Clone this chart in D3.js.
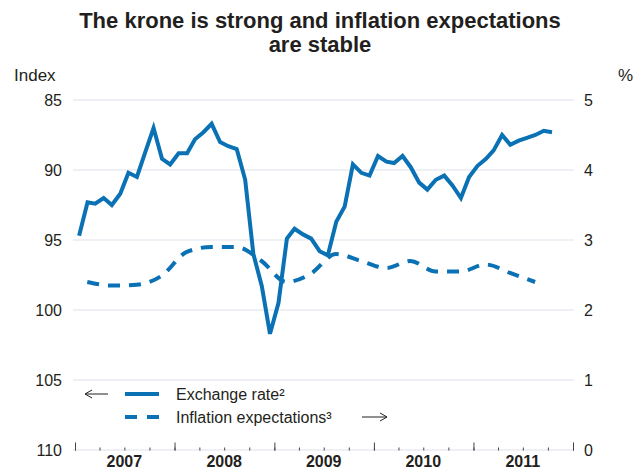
<!DOCTYPE html>
<html>
<head>
<meta charset="utf-8">
<script src="https://cdn.jsdelivr.net/npm/d3@7"></script>
<style>
  body { margin: 0; background: #fff; }
  svg { display: block; font-family: "Liberation Sans", Arial, Helvetica, sans-serif; }
</style>
</head>
<body>
<svg id="chart" width="642" height="471"></svg>
<script>
// Monthly exchange rate index, January 2007 to October 2011 (inverted left axis)
const exchangeRate = [
  94.7, 92.3, 92.4, 92.0, 92.5, 91.7, 90.2, 90.5, 88.7, 87.0, 89.2, 89.6,
  88.8, 88.8, 87.8, 87.3, 86.7, 88.0, 88.3, 88.5, 90.7, 96.0, 98.3, 101.7,
  99.5, 94.9, 94.2, 94.6, 94.9, 95.8, 96.1, 93.7, 92.6, 89.6, 90.2, 90.4,
  89.0, 89.4, 89.5, 89.0, 89.8, 90.9, 91.4, 90.7, 90.4, 91.1, 92.0, 90.5,
  89.7, 89.2, 88.6, 87.5, 88.2, 87.9, 87.7, 87.5, 87.2, 87.3
];
const exchangeStart = [2007, 0]; // year, month of first observation

// Quarterly inflation expectations (%), 2007 Q1 to 2011 Q3
const inflationExpectations = [
  2.40, 2.35, 2.36, 2.49, 2.83, 2.90, 2.90, 2.70, 2.40, 2.52,
  2.80, 2.70, 2.60, 2.70, 2.55, 2.55, 2.65, 2.53, 2.40
];
const inflationStart = [2007, 0]; // year, first quarter

const years = [2007, 2008, 2009, 2010, 2011];
const indexTicks = [85, 90, 95, 100, 105, 110];
const percentTicks = [0, 1, 2, 3, 4, 5];

const titleLines = ["The krone is strong and inflation expectations", "are stable"];
const leftUnit = "Index";
const rightUnit = "%";
const legendLabels = ["Exchange rate\u00B2", "Inflation expectations\u00B3"];

const blue = "#0a71b4";
const ink = "#231f20";
const grid = "#dde1ea";

const svg = d3.select("#chart");
const plot = { left: 74, right: 573, top: 100, bottom: 450 };

const x = d3.scaleTime()
  .domain([new Date(years[0], 0, 1), new Date(years[years.length - 1] + 1, 0, 1)])
  .range([plot.left + 1, plot.right]);
const yLeft = d3.scaleLinear().domain([85, 110]).range([plot.top, plot.bottom]);
const yRight = d3.scaleLinear().domain([5, 0]).range([plot.top, plot.bottom]);

// Title
svg.append("g").selectAll("text").data(titleLines).join("text")
  .attr("x", 320).attr("y", (d, i) => 28 + i * 24)
  .attr("text-anchor", "middle")
  .attr("font-size", 22).attr("font-weight", "bold").attr("fill", ink)
  .text(d => d);

// Unit labels
svg.append("text").attr("x", 14).attr("y", 81).attr("font-size", 17).attr("fill", ink).text(leftUnit);
svg.append("text").attr("x", 633).attr("y", 81).attr("text-anchor", "end").attr("font-size", 17).attr("fill", ink).text(rightUnit);

// Gridlines
svg.append("g").selectAll("line").data(indexTicks).join("line")
  .attr("x1", plot.left - 1).attr("x2", plot.right + 1)
  .attr("y1", d => yLeft(d)).attr("y2", d => yLeft(d))
  .attr("stroke", grid).attr("stroke-width", 1);

// Left axis labels
svg.append("g").selectAll("text").data(indexTicks).join("text")
  .attr("x", 62).attr("y", d => yLeft(d)).attr("dy", "0.36em")
  .attr("text-anchor", "end").attr("font-size", 16).attr("fill", ink)
  .text(d => d);

// Right axis labels
svg.append("g").selectAll("text").data(percentTicks).join("text")
  .attr("x", 584).attr("y", d => yRight(d)).attr("dy", "0.36em")
  .attr("font-size", 16).attr("fill", ink)
  .text(d => d);

// Time axis: year ticks and quarterly minor ticks, pointing up
const majorAxis = d3.axisBottom(x).ticks(d3.timeYear.every(1)).tickSize(-8).tickFormat("");
const minorAxis = d3.axisBottom(x).ticks(d3.timeMonth.every(3)).tickSize(-3).tickFormat("");
const gMinor = svg.append("g").attr("transform", `translate(0,${plot.bottom + 0.5})`).call(minorAxis);
const gMajor = svg.append("g").attr("transform", `translate(0,${plot.bottom + 0.5})`).call(majorAxis);
[gMinor, gMajor].forEach(g => {
  g.select(".domain").remove();
  g.selectAll(".tick line").attr("stroke", "#444").attr("stroke-width", 1);
});

// Year labels centred in each year
svg.append("g").selectAll("text").data(years).join("text")
  .attr("x", d => x(new Date(d, 6, 1)))
  .attr("y", 467)
  .attr("text-anchor", "middle").attr("font-size", 16).attr("font-weight", "bold").attr("fill", ink)
  .text(d => d);

// Series
const exData = exchangeRate.map((v, i) => ({ date: new Date(exchangeStart[0], exchangeStart[1] + i, 16), value: v }));
const infData = inflationExpectations.map((v, i) => ({ date: new Date(inflationStart[0], inflationStart[1] * 3 + i * 3 + 1, 15), value: v }));

svg.append("path").datum(infData)
  .attr("fill", "none").attr("stroke", blue).attr("stroke-width", 4)
  .attr("stroke-dasharray", "12,9")
  .attr("d", d3.line().x(d => x(d.date)).y(d => yRight(d.value)).curve(d3.curveMonotoneX));

svg.append("path").datum(exData)
  .attr("fill", "none").attr("stroke", blue).attr("stroke-width", 4)
  .attr("stroke-linejoin", "miter")
  .attr("d", d3.line().x(d => x(d.date)).y(d => yLeft(d.value)));

// Legend
const legend = svg.append("g");
const rows = [
  { y: 394, dash: null, label: legendLabels[0] },
  { y: 417, dash: "12,10", label: legendLabels[1] }
];
legend.selectAll("line.key").data(rows).join("line")
  .attr("class", "key")
  .attr("x1", 125).attr("x2", 159)
  .attr("y1", d => d.y).attr("y2", d => d.y)
  .attr("stroke", blue).attr("stroke-width", 4)
  .attr("stroke-dasharray", d => d.dash);
legend.selectAll("text").data(rows).join("text")
  .attr("x", 176).attr("y", d => d.y).attr("dy", "0.36em")
  .attr("font-size", 16).attr("fill", ink)
  .text(d => d.label);

// Arrows showing which axis each series belongs to
function arrow(x1, x2, yy) {
  const dir = Math.sign(x2 - x1);
  const head = 7;
  legend.append("path")
    .attr("d", `M${x1},${yy}H${x2}M${x2 - dir * head},${yy - 4}L${x2},${yy}L${x2 - dir * head},${yy + 4}`)
    .attr("fill", "none").attr("stroke", ink).attr("stroke-width", 1);
}
arrow(108, 85, 394);
arrow(362, 387, 417);
</script>
</body>
</html>
